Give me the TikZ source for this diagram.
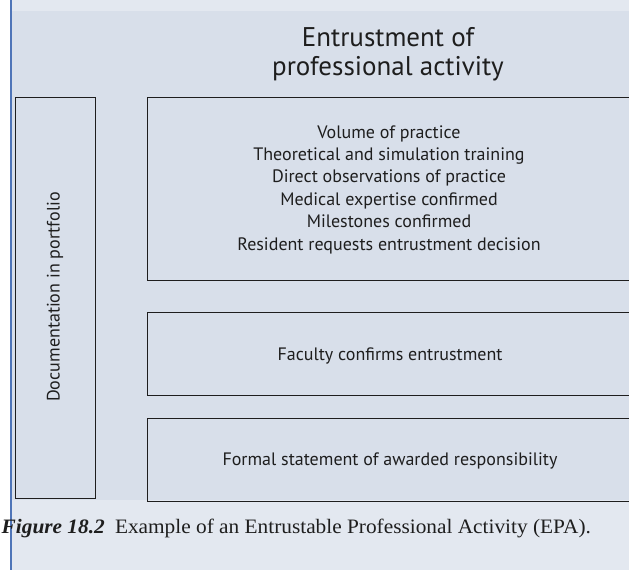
\documentclass[tikz,border=0pt]{standalone}
\usepackage{fontspec}
\setsansfont{PT Sans}
\newfontfamily\capfont[FakeStretch=1.04]{Liberation Serif}
\definecolor{panel}{HTML}{D8DFEA}
\definecolor{pale}{HTML}{E3E8F0}
\definecolor{rule}{HTML}{4F75B8}
\definecolor{ink}{HTML}{1E1E1E}
\begin{document}
\begin{tikzpicture}[x=1pt,y=-1pt,
  box/.style={draw=ink,line width=0.9pt},
  txt/.style={font=\sffamily\fontsize{18}{22.4}\selectfont,text=ink,inner sep=0pt,align=center}]
\useasboundingbox (0,0) rectangle (629,570);
\fill[white] (0,0) rectangle (629,570);
\fill[pale] (11,0) rectangle (629,570);
\fill[panel] (11,11) rectangle (629,500);
\draw[rule,line width=1.4pt] (11,0) -- (11,570);
% boxes
\draw[box] (15,97) rectangle (95,498);
\draw[box] (147,97) rectangle (640,280);
\draw[box] (147,312) rectangle (640,395);
\draw[box] (147,418) rectangle (640,501);
% title
\node[txt,font=\sffamily\fontsize{27}{29}\selectfont,anchor=base] (t1) at (388,46) {Entrustment of};
\node[txt,font=\sffamily\fontsize{27}{29}\selectfont,anchor=base] (t2) at (388,75) {professional activity};
% box 1 text
\node[txt,anchor=base] (l1) at (389,138) {Volume of practice};
\node[txt,anchor=base] (l2) at (389,160.4) {Theoretical and simulation training};
\node[txt,anchor=base] (l3) at (389,182.8) {Direct observations of practice};
\node[txt,anchor=base] (l4) at (389,205.2) {Medical expertise confirmed};
\node[txt,anchor=base] (l5) at (389,227.6) {Milestones confirmed};
\node[txt,anchor=base] (l6) at (389,250) {Resident requests entrustment decision};
\node[txt,anchor=base] (fac) at (390,360) {Faculty confirms entrustment};
\node[txt,anchor=base] (form) at (390,465) {Formal statement of awarded responsibility};
\node[txt,rotate=90] (doc) at (55,297) {Documentation in portfolio};
% caption
\node[anchor=base west,inner sep=0pt,font=\capfont\fontsize{20.5}{22}\selectfont,text=ink] (cap) at (1.5,533)
  {\textbf{\textit{Figure 18.2}}\hspace{0.5em}Example of an Entrustable Professional Activity (EPA).};
\end{tikzpicture}
\end{document}
